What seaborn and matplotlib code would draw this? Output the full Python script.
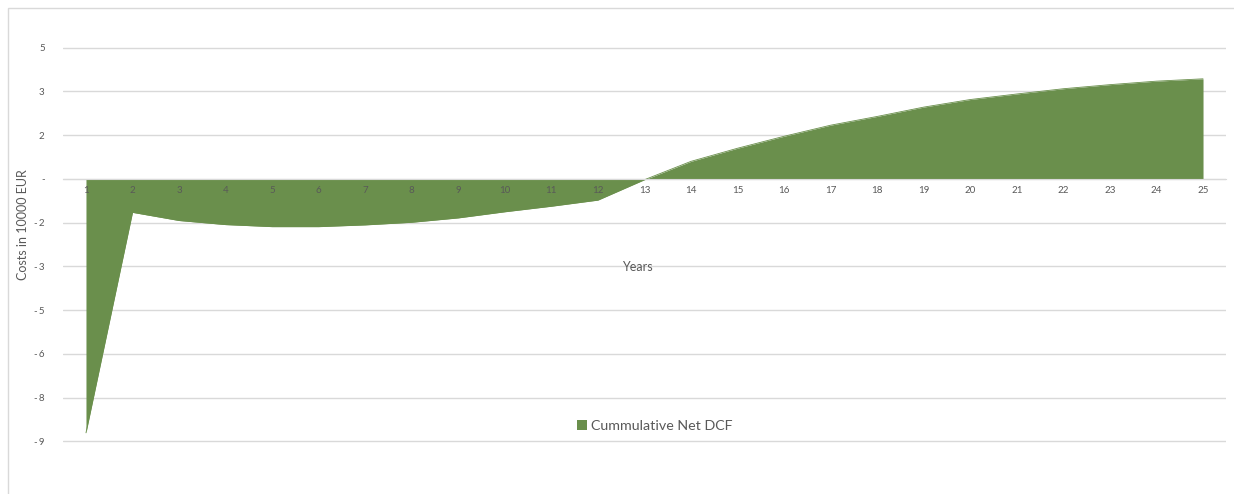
"""
Cumulative net discounted cash flow over the project lifetime (area chart).
"""

import numpy as np
import pandas as pd
import seaborn as sns
import matplotlib.pyplot as plt
from matplotlib.patches import Rectangle
from matplotlib.ticker import FuncFormatter

# Data (costs in 10000 EUR)
years = list(range(1, 26))
cum_net_dcf = [-8.71, -1.15, -1.43, -1.57, -1.64, -1.64, -1.58, -1.49, -1.34, -1.13,
               -0.94, -0.73, -0.03, 0.60, 1.05, 1.46, 1.84, 2.14, 2.46, 2.72,
               2.91, 3.09, 3.23, 3.35, 3.43]
series_name = 'Cummulative Net DCF'

df = pd.DataFrame({'year': years, 'value': cum_net_dcf})

sns.set_style('white')
plt.rcParams['font.family'] = ['Lato', 'DejaVu Sans']

green = '#6A8F4C'
grid_c = '#D9D9D9'
text_c = '#595959'

fig = plt.figure(figsize=(12.34, 4.94), dpi=100)
ax = fig.add_axes([62.7 / 1234, 1 - 444.2 / 494, 1163.6 / 1234, 399.5 / 494])

# area: seaborn for the outline, fill down to zero
sns.lineplot(data=df, x='year', y='value', ax=ax, color=green, linewidth=0.6, zorder=3)
ax.fill_between(df['year'], df['value'], 0, color=green, linewidth=0, zorder=3,
                label=series_name)

# y scale like the Excel axis (step 1.5, shown rounded)
ax.set_ylim(-9.1, 4.6)
ax.set_yticks(np.arange(-9, 4.6, 1.5))


def excel_fmt(v, pos):
    n = int(np.floor(abs(v) + 0.5))
    if n == 0:
        return '-'
    return f'-\u2009{n}' if v < 0 else f'{n}'


ax.yaxis.set_major_formatter(FuncFormatter(excel_fmt))
ax.grid(axis='y', color=grid_c, linewidth=1)
ax.yaxis.set_zorder(0.5)   # gridlines under the area
ax.xaxis.set_zorder(5)     # year labels on top of the area

ax.set_xlim(0.5, 25.5)
ax.set_xticks(years)

for s in ['top', 'right', 'left']:
    ax.spines[s].set_visible(False)
ax.spines['bottom'].set_position(('data', 0))
ax.spines['bottom'].set_color(grid_c)
ax.spines['bottom'].set_zorder(4)

ax.tick_params(axis='x', length=0, labelsize=7, labelcolor=text_c, pad=5)
ax.tick_params(axis='y', length=0, labelsize=7, labelcolor=text_c, pad=13)

ax.set_xlabel('Years', fontsize=9, color=text_c)
ax.xaxis.set_label_coords(0.494, 0.458)
ax.set_ylabel('Costs in 10000 EUR', fontsize=9, color=text_c)
ax.yaxis.set_label_coords(-0.029, 0.55)

ax.legend(loc='center', bbox_to_anchor=(0.509, 0.046), frameon=False, fontsize=10.3,
          handlelength=0.7, handleheight=0.7, handletextpad=0.3, labelcolor=text_c)

# chart frame (cropped on the right/bottom)
fig.patches.append(Rectangle((8 / 1234, -0.2), 1.5, 1.2 - 8 / 494, transform=fig.transFigure,
                             fill=False, edgecolor=grid_c, linewidth=1))

fig.savefig('out.png', dpi=100)
